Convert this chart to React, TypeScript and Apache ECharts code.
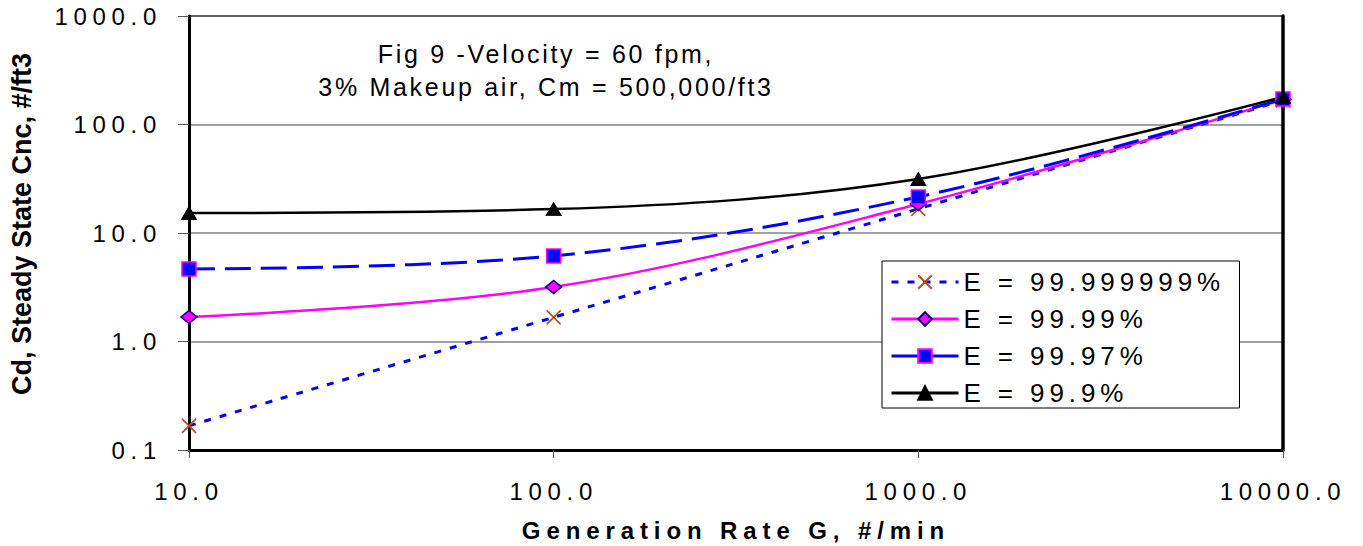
import React, { useEffect, useRef } from "react";
import * as echarts from "echarts";

// ---- data ----
const generationRates = [10, 100, 1000, 10000];
const seriesNames = ["E = 99.999999%", "E = 99.99%", "E = 99.97%", "E = 99.9%"];
const cdE999999 = [0.167, 1.67, 16.7, 167];
const cdE9999 = [1.68, 3.18, 18.5, 170];
const cdE9997 = [4.66, 6.14, 21.5, 172];
const cdE999 = [15.3, 16.6, 31.5, 180];
const titleLines = ["Fig 9 -Velocity = 60 fpm,", "3% Makeup air, Cm = 500,000/ft3"];
const xAxisTitle = "Generation Rate G, #/min";
const yAxisTitle = "Cd, Steady State Cnc, #/ft3";

const F_TICK = "lsTick, 'Liberation Sans', Arial, sans-serif";
const F_TITLE = "lsTitle, 'Liberation Sans', Arial, sans-serif";
const F_LEGEND = "lsLegend, 'Liberation Sans', Arial, sans-serif";
const F_XNAME = "lsXname, 'Liberation Sans', Arial, sans-serif";
const F_YNAME = "'Liberation Sans', Arial, sans-serif";

const css = `
.figchart text[style*="lsTick"] { letter-spacing: 5.7px; }
.figchart text[style*="lsTitle"] { letter-spacing: 2.7px; }
.figchart text[style*="lsLegend"] { letter-spacing: 4.9px; }
.figchart text[style*="lsXname"] { letter-spacing: 5.9px; }
`;

const zip = (ys: number[]) => generationRates.map((x, i) => [x, ys[i]]);

export default function App() {
  const ref = useRef<HTMLDivElement>(null);
  useEffect(() => {
    if (!ref.current) return;
    const chart = echarts.init(ref.current, undefined, { renderer: "svg" });
    const fmt = (v: number) => Number(v).toFixed(1);
    const smooth = 0.35;
    chart.setOption({
      animation: false,
      backgroundColor: "#fff",
      grid: {
        left: 189,
        right: 80,
        top: 16,
        bottom: 96,
        show: true,
        borderColor: "#000",
        borderWidth: 2,
        backgroundColor: "transparent",
      },
      xAxis: {
        type: "log",
        logBase: 10,
        min: 10,
        max: 10000,
        axisLine: { show: true, onZero: false, lineStyle: { color: "#000", width: 3 } },
        axisTick: { show: true, length: 8, lineStyle: { color: "#555", width: 1 } },
        axisLabel: {
          formatter: fmt,
          margin: 29,
          fontSize: 24,
          lineHeight: 24,
          color: "#000",
          fontFamily: F_TICK,
        },
        splitLine: { show: false },
        minorTick: { show: false },
      },
      yAxis: [
        {
          type: "log",
          logBase: 10,
          min: 0.1,
          max: 1000,
          position: "left",
          axisLine: { show: true, onZero: false, lineStyle: { color: "#000", width: 3 } },
          axisTick: { show: true, length: 11, lineStyle: { color: "#555", width: 1 } },
          axisLabel: {
            formatter: fmt,
            margin: 27,
            fontSize: 24,
            lineHeight: 24,
            color: "#000",
            fontFamily: F_TICK,
          },
          splitLine: { show: true, lineStyle: { color: "#808080", width: 1.5 } },
          minorTick: { show: false },
        },
        {
          type: "log",
          logBase: 10,
          min: 0.1,
          max: 1000,
          position: "right",
          axisLine: { show: true, onZero: false, lineStyle: { color: "#000", width: 3.5 } },
          axisTick: { show: false },
          axisLabel: { show: false },
          splitLine: { show: false },
        },
      ],
      legend: {
        orient: "vertical",
        left: 882,
        top: 261,
        itemWidth: 67,
        itemHeight: 17,
        itemGap: 11,
        padding: [8, 83, 2, 8],
        backgroundColor: "#fff",
        borderColor: "#000",
        borderWidth: 1,
        borderRadius: 0,
        selectedMode: false,
        lineStyle: { width: 3 },
        textStyle: { fontSize: 26, lineHeight: 26, fontFamily: F_LEGEND, color: "#000" },
        data: [
          { name: seriesNames[0] },
          { name: seriesNames[1] },
          { name: seriesNames[2], lineStyle: { type: "solid", width: 3 } },
          { name: seriesNames[3] },
        ],
      },
      series: [
        {
          name: seriesNames[0],
          type: "line",
          data: zip(cdE999999),
          smooth,
          symbol: "path://M0,0L10,10M10,0L0,10",
          symbolSize: 14,
          lineStyle: { color: "#0000FF", width: 3, type: [7, 9] },
          itemStyle: { color: "#B0501E", borderColor: "#B0501E", borderWidth: 1.6 },
        },
        {
          name: seriesNames[1],
          type: "line",
          data: zip(cdE9999),
          smooth,
          symbol: "diamond",
          symbolSize: [16, 13],
          lineStyle: { color: "#FF00FF", width: 2.5, type: "solid" },
          itemStyle: { color: "#FF00FF", borderColor: "#000080", borderWidth: 1.5 },
        },
        {
          name: seriesNames[2],
          type: "line",
          data: zip(cdE9997),
          smooth,
          symbol: "rect",
          symbolSize: 14,
          lineStyle: { color: "#0000FF", width: 3, type: [26, 10] },
          itemStyle: { color: "#0000FF", borderColor: "#FF00FF", borderWidth: 1.5 },
        },
        {
          name: seriesNames[3],
          type: "line",
          data: zip(cdE999),
          smooth,
          symbol: "triangle",
          symbolSize: [15, 13],
          lineStyle: { color: "#000000", width: 2.5, type: "solid" },
          itemStyle: { color: "#000000", borderColor: "#000000", borderWidth: 1 },
        },
      ],
      graphic: [
        {
          type: "text",
          x: 546,
          y: 37,
          style: {
            text: titleLines.join("\n"),
            fontSize: 25,
            lineHeight: 33,
            fontFamily: F_TITLE,
            align: "center",
            verticalAlign: "top",
            fill: "#000",
          },
        },
        {
          type: "text",
          x: 736,
          y: 530,
          style: {
            text: xAxisTitle,
            fontSize: 24,
            fontWeight: "bold",
            fontFamily: F_XNAME,
            align: "center",
            verticalAlign: "middle",
            fill: "#000",
          },
        },
        {
          type: "text",
          x: 22,
          y: 224,
          rotation: Math.PI / 2,
          style: {
            text: yAxisTitle,
            fontSize: 27,
            fontWeight: "bold",
            fontFamily: F_YNAME,
            align: "center",
            verticalAlign: "middle",
            fill: "#000",
          },
        },
      ],
    });
    return () => chart.dispose();
  }, []);
  return (
    <>
      <style>{css}</style>
      <div
        ref={ref}
        className="figchart"
        style={{ position: "absolute", left: 0, top: 0, width: 1363, height: 546 }}
      />
    </>
  );
}
